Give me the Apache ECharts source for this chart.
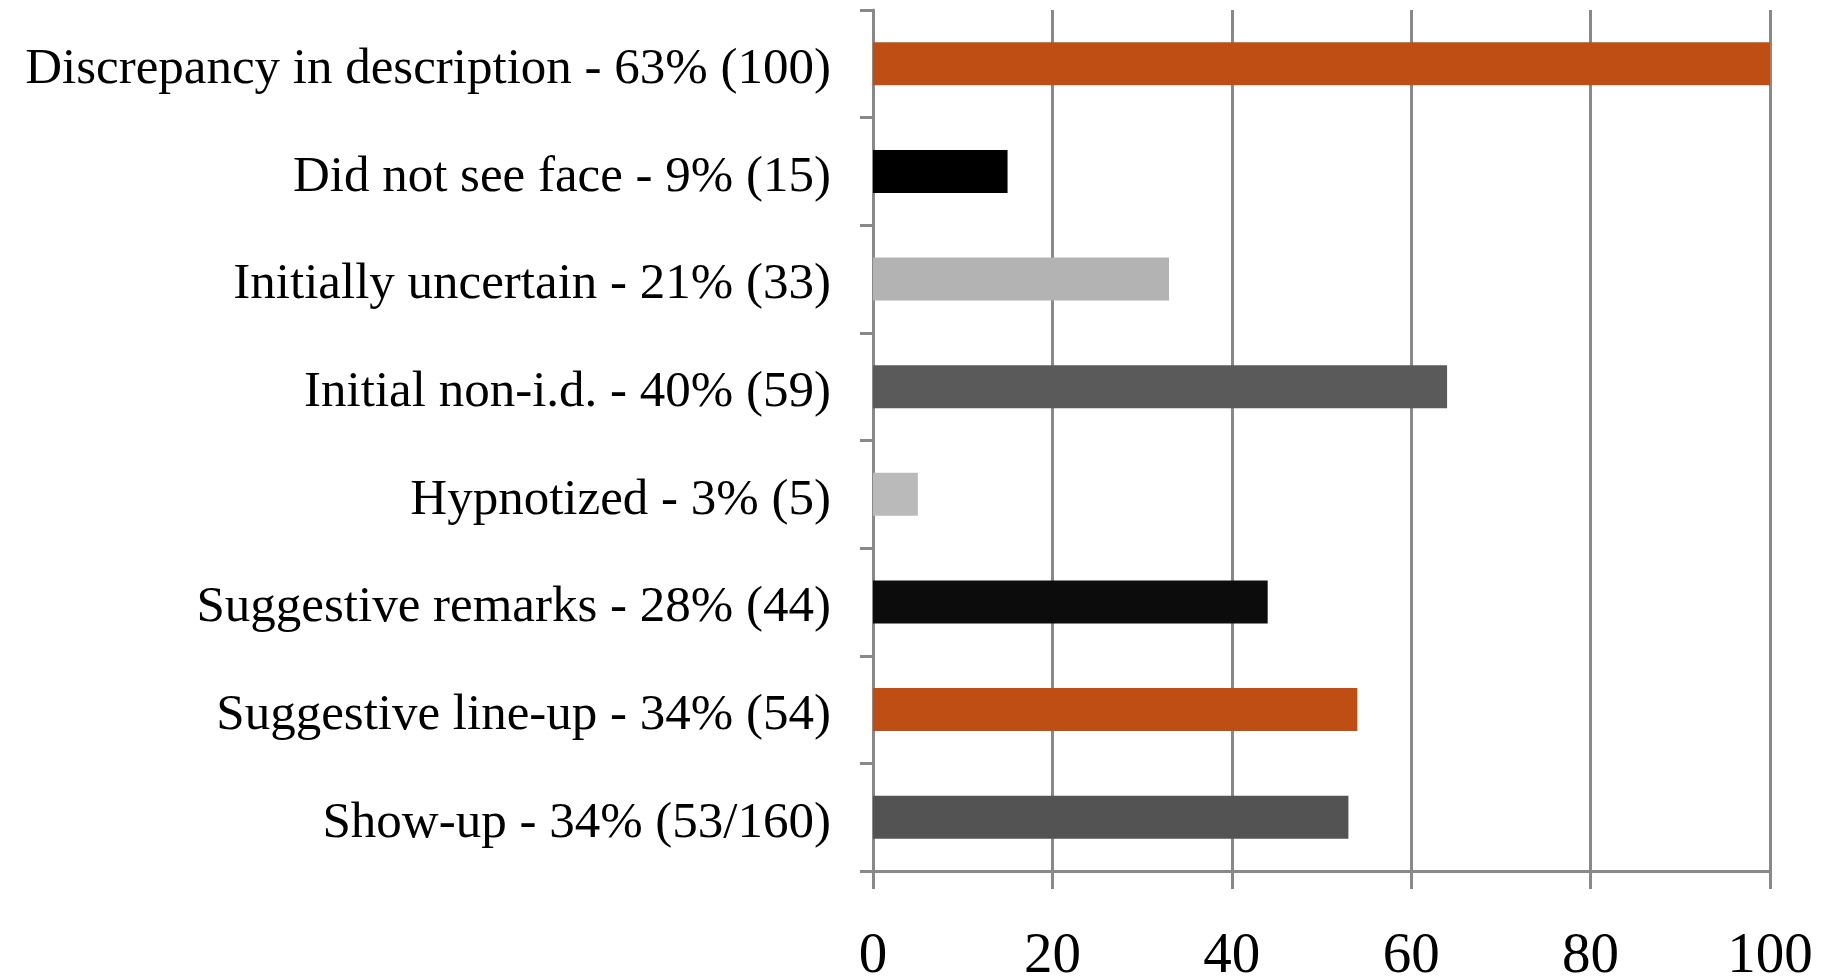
<!DOCTYPE html>
<html>
<head>
<meta charset="utf-8">
<style>
  html, body { margin: 0; padding: 0; background: #ffffff; }
  #chart { width: 1825px; height: 977px; }
</style>
<script src="https://cdn.jsdelivr.net/npm/echarts@6/dist/echarts.min.js"></script>
</head>
<body>
<div id="chart"></div>
<script>
// Reasons cited in the identification cases, listed top to bottom
const categories = [
  'Discrepancy in description - 63% (100)',
  'Did not see face - 9% (15)',
  'Initially uncertain - 21% (33)',
  'Initial non-i.d. - 40% (59)',
  'Hypnotized - 3% (5)',
  'Suggestive remarks - 28% (44)',
  'Suggestive line-up - 34% (54)',
  'Show-up - 34% (53/160)'
];
const counts = [100, 15, 33, 64, 5, 44, 54, 53];
const barColors = ['#bf4e14', '#000000', '#b3b3b3', '#5a5a5a', '#bababa', '#0c0c0c', '#bf4e14', '#535353'];
const xTicks = [0, 20, 40, 60, 80, 100];

const font = '"Liberation Serif", "Times New Roman", serif';
const gray = '#898989';

const chart = echarts.init(document.getElementById('chart'));
chart.setOption({
  backgroundColor: '#ffffff',
  animation: false,
  grid: {
    left: 873, right: 55, top: 10, bottom: 106,
    containLabel: false,
    outerBoundsMode: 'none'
  },
  xAxis: {
    type: 'value',
    min: xTicks[0],
    max: xTicks[xTicks.length - 1],
    interval: xTicks[1] - xTicks[0],
    axisLine: { show: true, lineStyle: { color: gray, width: 3 } },
    axisTick: { show: true, length: 18, lineStyle: { color: gray, width: 3 } },
    splitLine: { show: true, lineStyle: { color: gray, width: 3 } },
    axisLabel: {
      margin: 58,
      color: '#000000',
      fontFamily: font,
      fontSize: 57
    }
  },
  yAxis: {
    type: 'category',
    inverse: true,
    data: categories,
    axisLine: { show: true, lineStyle: { color: gray, width: 3 } },
    axisTick: { show: true, length: 13, lineStyle: { color: gray, width: 3 } },
    axisLabel: {
      margin: 42,
      color: '#000000',
      fontFamily: font,
      fontSize: 51,
      // nudge each label down so its baseline sits level with the bar's lower edge
      formatter: (v) => '{t|' + v + '}',
      rich: { t: { fontFamily: font, fontSize: 51, color: '#000000', padding: [12, 0, 0, 0] } }
    }
  },
  series: [{
    type: 'bar',
    data: counts.map((v, i) => ({ value: v, itemStyle: { color: barColors[i] } })),
    barWidth: 43
  }]
});
</script>
</body>
</html>
